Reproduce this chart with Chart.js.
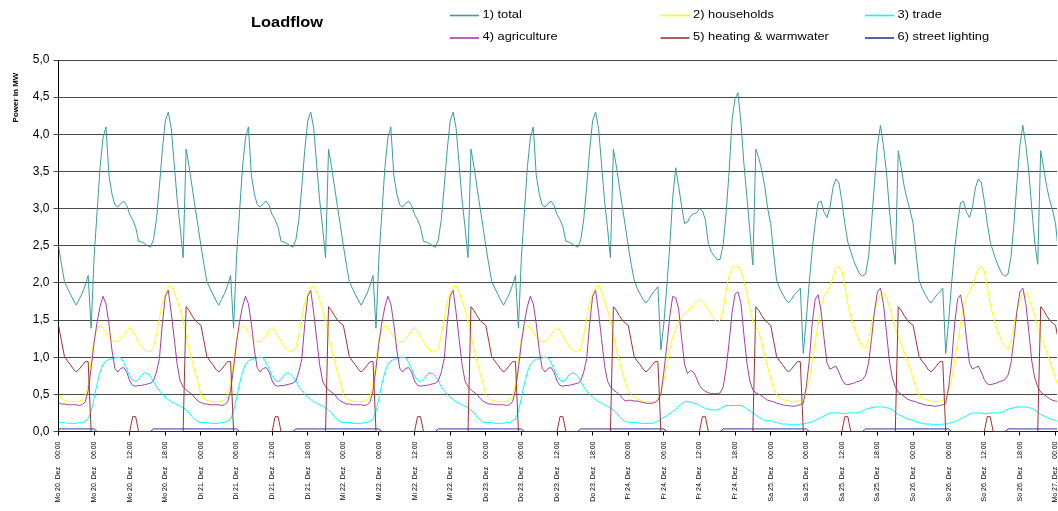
<!DOCTYPE html>
<html>
<head>
<meta charset="utf-8">
<script src="https://cdn.jsdelivr.net/npm/chart.js@4.4.0/dist/chart.umd.min.js"></script>
<style>
html,body{margin:0;padding:0;background:#fff;}
#wrap{width:1058px;height:511px;position:relative;}
</style>
</head>
<body>
<div id="wrap"><canvas id="c" width="1058" height="511"></canvas></div>
<script>
// ---------- texts ----------
const chartTitle = 'Loadflow';
const yTitle = 'Power in MW';
const seriesNames = ['1) total','2) households','3) trade','4) agriculture','5) heating & warmwater','6) street lighting'];
const seriesColors = ['#3a9e9e','#ffff00','#00ffff','#a040a0','#9c3434','#2b3a98'];
const tickLabels = [
 'Mo 20. Dez    00:00','Mo 20. Dez    06:00','Mo 20. Dez    12:00','Mo 20. Dez    18:00',
 'Di 21. Dez    00:00','Di 21. Dez    06:00','Di 21. Dez    12:00','Di 21. Dez    18:00',
 'Mi 22. Dez    00:00','Mi 22. Dez    06:00','Mi 22. Dez    12:00','Mi 22. Dez    18:00',
 'Do 23. Dez    00:00','Do 23. Dez    06:00','Do 23. Dez    12:00','Do 23. Dez    18:00',
 'Fr 24. Dez    00:00','Fr 24. Dez    06:00','Fr 24. Dez    12:00','Fr 24. Dez    18:00',
 'Sa 25. Dez    00:00','Sa 25. Dez    06:00','Sa 25. Dez    12:00','Sa 25. Dez    18:00',
 'So 26. Dez    00:00','So 26. Dez    06:00','So 26. Dez    12:00','So 26. Dez    18:00',
 'Mo 27. Dez    00:00'
];

// ---------- values (MW, half-hourly, 48 per day) ----------
// 1) total
const wdTotal = [
 2.50,2.25,2.02,1.93,1.85,1.77,1.70,1.78,1.86,1.97,2.10,1.39,
 2.35,2.95,3.55,3.95,4.10,3.45,3.20,3.05,3.02,3.07,3.10,3.04,
 2.92,2.85,2.75,2.56,2.55,2.53,2.50,2.48,2.58,2.85,3.30,3.79,
 4.18,4.30,4.08,3.60,3.12,2.75,2.34,3.80,3.57,3.30,3.03,2.77];
const frTotal = [
 2.50,2.25,2.04,1.93,1.85,1.78,1.73,1.78,1.85,1.90,1.95,1.10,
 1.45,1.95,2.50,3.15,3.55,3.30,3.03,2.80,2.82,2.90,2.93,2.94,
 3.00,2.97,2.85,2.53,2.42,2.36,2.31,2.32,2.52,2.95,3.50,4.20,
 4.48,4.56,4.15,3.60,3.15,2.70,2.24,3.80,3.68,3.52,3.30,3.00];
const holTotal = [
 2.80,2.40,2.04,1.93,1.85,1.78,1.73,1.78,1.84,1.88,1.93,1.05,
 1.50,2.00,2.45,2.80,3.08,3.10,2.95,2.88,3.02,3.28,3.40,3.35,
 3.10,2.80,2.55,2.42,2.30,2.20,2.12,2.09,2.12,2.35,2.80,3.35,
 3.85,4.12,3.85,3.50,3.00,2.55,2.25,3.78,3.55,3.30,3.12,2.98];
const endTotal = [2.80,2.40];

// 2) households
const wdHouse = [
 0.50,0.45,0.42,0.41,0.40,0.40,0.40,0.41,0.43,0.47,0.65,0.95,
 1.25,1.38,1.42,1.40,1.33,1.27,1.23,1.21,1.21,1.25,1.30,1.36,
 1.40,1.35,1.28,1.21,1.15,1.10,1.07,1.08,1.12,1.30,1.52,1.74,
 1.86,1.95,1.96,1.88,1.76,1.64,1.48,1.30,1.11,0.95,0.80,0.66];
const frHouse = [
 0.55,0.50,0.47,0.44,0.42,0.41,0.40,0.40,0.40,0.40,0.45,0.52,
 0.68,0.90,1.10,1.28,1.38,1.47,1.55,1.59,1.62,1.65,1.70,1.75,
 1.78,1.75,1.70,1.64,1.57,1.51,1.47,1.50,1.64,1.90,2.10,2.20,
 2.23,2.22,2.16,2.02,1.86,1.66,1.48,1.40,1.34,1.20,1.02,0.86];
const holHouse = [
 0.72,0.58,0.49,0.45,0.43,0.42,0.41,0.40,0.40,0.41,0.42,0.45,
 0.55,0.70,0.95,1.20,1.45,1.68,1.82,1.88,1.96,2.08,2.20,2.22,
 2.16,1.95,1.72,1.55,1.42,1.30,1.20,1.14,1.11,1.22,1.45,1.62,
 1.76,1.85,1.87,1.80,1.68,1.55,1.40,1.27,1.18,1.07,0.95,0.84];
const endHouse = [0.72,0.58];

// 3) trade
const wdTrade = [
 0.12,0.12,0.12,0.11,0.11,0.11,0.11,0.12,0.12,0.14,0.17,0.27,
 0.45,0.64,0.80,0.90,0.95,0.97,0.98,0.99,1.00,0.99,0.93,0.84,
 0.75,0.69,0.67,0.70,0.76,0.79,0.78,0.74,0.68,0.60,0.55,0.50,
 0.46,0.43,0.40,0.38,0.36,0.34,0.32,0.29,0.25,0.20,0.16,0.13];
const frTrade = [
 0.13,0.12,0.12,0.12,0.11,0.11,0.11,0.11,0.11,0.12,0.14,0.17,
 0.19,0.21,0.24,0.27,0.30,0.34,0.37,0.40,0.40,0.40,0.38,0.37,
 0.35,0.33,0.31,0.30,0.29,0.29,0.29,0.31,0.33,0.35,0.35,0.35,
 0.35,0.35,0.35,0.33,0.30,0.28,0.25,0.22,0.19,0.17,0.15,0.14];
const holTrade = [
 0.15,0.13,0.12,0.11,0.10,0.10,0.10,0.09,0.09,0.09,0.10,0.10,
 0.11,0.12,0.13,0.15,0.17,0.19,0.21,0.23,0.25,0.25,0.25,0.25,
 0.24,0.24,0.25,0.25,0.25,0.25,0.26,0.28,0.30,0.31,0.32,0.33,
 0.33,0.33,0.33,0.32,0.31,0.29,0.26,0.23,0.21,0.19,0.17,0.16];
const endTrade = [0.15,0.13];

// 4) agriculture
const wdAgri = [
 0.39,0.37,0.37,0.36,0.36,0.36,0.36,0.35,0.36,0.40,0.55,0.85,
 1.20,1.47,1.68,1.82,1.72,1.45,1.10,0.85,0.80,0.85,0.86,0.80,
 0.68,0.62,0.61,0.62,0.62,0.63,0.64,0.65,0.68,0.80,0.98,1.45,
 1.82,1.90,1.60,1.25,0.90,0.68,0.60,0.56,0.53,0.50,0.45,0.41];
const frAgri = [
 0.42,0.42,0.41,0.41,0.40,0.39,0.38,0.38,0.38,0.39,0.42,0.50,
 0.80,1.15,1.55,1.82,1.80,1.65,1.25,0.90,0.78,0.82,0.80,0.72,
 0.62,0.57,0.54,0.52,0.51,0.51,0.51,0.52,0.60,0.85,1.20,1.60,
 1.85,1.88,1.72,1.30,0.92,0.68,0.56,0.52,0.50,0.48,0.45,0.42];
const holAgri = [
 0.41,0.40,0.38,0.37,0.36,0.35,0.35,0.34,0.34,0.35,0.36,0.38,
 0.60,0.95,1.45,1.78,1.84,1.62,1.25,0.92,0.84,0.86,0.88,0.80,
 0.70,0.64,0.63,0.64,0.65,0.67,0.68,0.70,0.76,0.92,1.25,1.62,
 1.88,1.93,1.72,1.35,0.95,0.72,0.60,0.53,0.50,0.47,0.44,0.42];
const endAgri = [0.41,0.40];

// 5) heating & warmwater (same every day)
const heatDay = [
 1.43,1.22,1.01,0.95,0.90,0.84,0.80,0.84,0.89,0.94,0.94,0,
 0,0,0,0,0,0,0,0,0,0,0,0,
 0,0.20,0.20,0,0,0,0,0,0,0,0,0,
 0,0,0,0,0,0,0,1.68,1.63,1.56,1.50,1.46];
const endHeat = [1.43,1.22];

// 6) street lighting (same every day)
const lightDay = [
 0.035,0.035,0.035,0.035,0.035,0.035,0.035,0.035,0.035,0.035,0.035,0.035,
 0.035,0,0,0,0,0,0,0,0,0,0,0,
 0,0,0,0,0,0,0,0,0.035,0.035,0.035,0.035,
 0.035,0.035,0.035,0.035,0.035,0.035,0.035,0.035,0.035,0.035,0.035,0.035];
const endLight = [0.035,0.035];

// ---------- assemble the week: Mo, Di, Mi, Do, Fr, Sa, So ----------
function week(wd, fr, hol, end){ return [].concat(wd, wd, wd, wd, fr, hol, hol, end); }
function toPoints(arr){ return arr.map((v,i)=>({x:i*0.5, y:v})); }

const seriesValues = [
  week(wdTotal, frTotal, holTotal, endTotal),
  week(wdHouse, frHouse, holHouse, endHouse),
  week(wdTrade, frTrade, holTrade, endTrade),
  week(wdAgri,  frAgri,  holAgri,  endAgri),
  week(heatDay, heatDay, heatDay,  endHeat),
  week(lightDay,lightDay,lightDay, endLight)
];

// ---------- fonts ----------
function hasFont(name){
  const c = document.createElement('canvas').getContext('2d');
  const s = 'Mo 20. Dez 00:00 abcdefghijklmnop';
  c.font = '20px monospace'; const a = c.measureText(s).width;
  c.font = '20px "' + name + '", monospace'; const b = c.measureText(s).width;
  return Math.abs(a-b) > 0.5;
}
const BASE = '"Liberation Sans", Arial, Helvetica, sans-serif';
const xTickFont = hasFont('Liberation Sans Narrow')
  ? {family:'"Liberation Sans Narrow", ' + BASE, size:8}
  : {family:BASE, size:7};

// ---------- decoration plugin: title, legend, axis title ----------
const legendCols = [450, 660.5, 865];
const legendRows = [14.5, 37];
const deco = {
  id:'deco',
  afterDraw(chart){
    const ctx = chart.ctx;
    ctx.save();
    ctx.fillStyle = '#000';
    ctx.textBaseline = 'middle';
    // title
    ctx.font = 'bold 14px ' + BASE;
    ctx.textAlign = 'center';
    ctx.save(); ctx.translate(287, 23.5); ctx.scale(1.17,1); ctx.fillText(chartTitle,0,0); ctx.restore();
    // y axis title
    ctx.font = 'bold 8px ' + BASE;
    ctx.save(); ctx.translate(16, 97.5); ctx.rotate(-Math.PI/2); ctx.fillText(yTitle,0,0); ctx.restore();
    // legend
    ctx.font = '11px ' + BASE;
    ctx.textAlign = 'left';
    chart.data.datasets.forEach((ds,i)=>{
      const x = legendCols[i%3], y = legendRows[Math.floor(i/3)];
      ctx.strokeStyle = ds.borderColor; ctx.lineWidth = 1.6;
      ctx.beginPath(); ctx.moveTo(x, y+1); ctx.lineTo(x+29, y+1); ctx.stroke();
      ctx.save(); ctx.translate(x+32.5, y); ctx.scale(1.17,1); ctx.fillText(ds.label,0,0); ctx.restore();
    });
    ctx.restore();
  }
};

// ---------- chart ----------
const datasets = seriesNames.map((name,i)=>({
  label:name,
  data:toPoints(seriesValues[i]),
  borderColor:seriesColors[i],
  backgroundColor:seriesColors[i],
  borderWidth:1,
  pointRadius:0,
  tension:0,
  fill:false,
  order:6-i
}));

new Chart(document.getElementById('c'), {
  type:'line',
  data:{datasets},
  plugins:[deco],
  options:{
    responsive:false,
    animation:false,
    layout:{padding:{left:0,right:1,top:60,bottom:0}},
    plugins:{legend:{display:false}, tooltip:{enabled:false}, title:{display:false}},
    scales:{
      x:{
        type:'linear', min:0, max:168.25,
        ticks:{
          stepSize:6, autoSkip:false, includeBounds:false,
          minRotation:90, maxRotation:90, padding:6,
          color:'#000', font:xTickFont,
          callback:(v)=>{ const k = Math.round(v/6); return (Math.abs(v-k*6)<1e-6 && tickLabels[k]) ? tickLabels[k] : ''; }
        },
        grid:{drawOnChartArea:false, drawTicks:true, tickLength:4, color:'#000'},
        border:{color:'#000', width:1},
        afterFit:(s)=>{ s.height = 79.5; s.paddingLeft = 0; s.paddingRight = 0; }
      },
      y:{
        min:0, max:5,
        ticks:{stepSize:0.5, padding:4, color:'#000',
          font:{family:BASE, size:12},
          callback:(v)=>v.toFixed(1).replace('.',',')},
        grid:{color:'#4a4a4a', lineWidth:1, tickLength:5},
        border:{color:'#000', width:1},
        afterFit:(s)=>{ s.width = 58.5; s.paddingTop = 0; s.paddingBottom = 0; }
      }
    }
  }
});
</script>
</body>
</html>
